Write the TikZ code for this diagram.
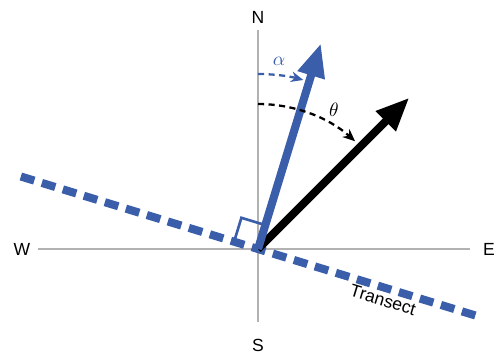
\documentclass[tikz,border=0pt]{standalone}
\usepackage{fontspec}
\setmainfont{Liberation Sans}
\usetikzlibrary{arrows.meta}
\definecolor{tblue}{RGB}{59,94,171}

\begin{document}
\begin{tikzpicture}[x=0.02cm,y=0.02cm,>=Latex,
  axis/.style={line width=1.6pt,draw=gray!60},
  vec/.style={line width=4.6pt,-{Triangle[length=19pt,width=15pt]}},
  angarc/.style={line width=1.3pt,dash pattern=on 3.5pt off 2.5pt,-{Stealth[length=7pt,width=6pt]}},
  every node/.style={font=\fontsize{10}{12}\selectfont}]
  \useasboundingbox (-258,-107) rectangle (238,249);
  \coordinate (o) at (0,0);
  \coordinate (n) at (0,219);
  \coordinate (s) at (0,-73);
  \coordinate (w) at (-220,0);
  \coordinate (e) at (212,0);
  \node (nlab) at (0,232) {N};
  \node (slab) at (0,-96) {S};
  \node (wlab) at (-236,0) {W};
  \node (elab) at (231,0) {E};
  \draw[axis] (n) -- (s);
  \draw[axis] (w) -- (e);
  % transect
  \coordinate (tw) at (163:248);
  \coordinate (te) at (-17:230);
  \draw[tblue,line width=4.6pt,dash pattern=on 8pt off 4.5pt] (tw) -- (te);
  \node[rotate=-17] (tlab) at (125,-51) {Transect};
  % right angle
  \draw[tblue,line width=1.5pt,rotate=-17] (-25,0) -- (-25,25) -- (0,25);
  % vectors
  \coordinate (a) at (73:215);
  \coordinate (b) at (45:214);
  \draw[vec] (o) -- (b);
  \draw[vec,tblue] (o) -- (a);
  % angles
  \draw[angarc,tblue] (90:175) arc (90:75:175);
  \node[tblue,font=\fontsize{11}{12}\selectfont] (alab) at (21,188) {$\alpha$};
  \draw[angarc] (90:145) arc (90:48:145);
  \node[font=\fontsize{11}{12}\selectfont] (thlab) at (76,139) {$\theta$};
\end{tikzpicture}
\end{document}
